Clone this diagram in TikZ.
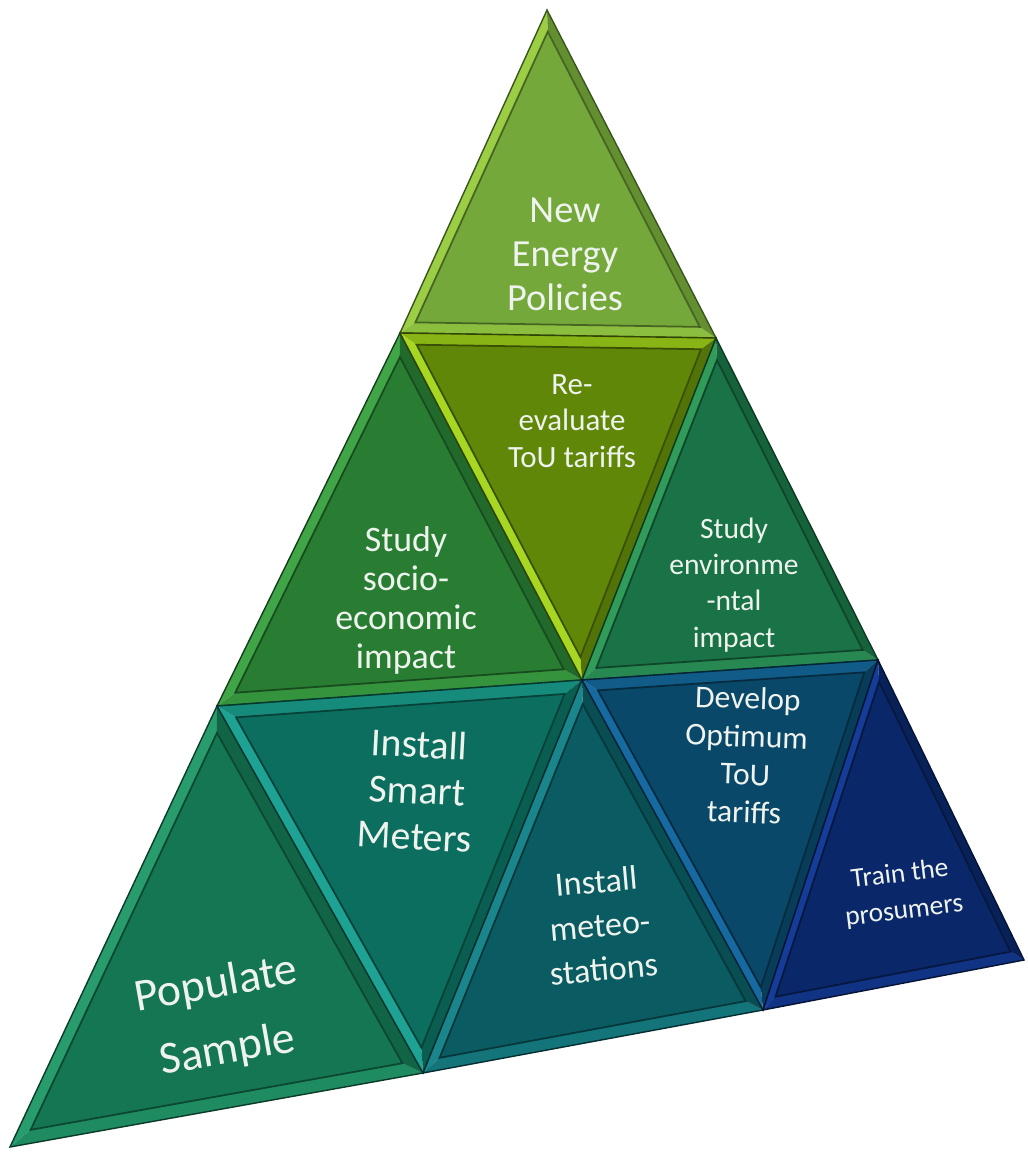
\documentclass[tikz,border=0pt]{standalone}
\usepackage{fontspec}
\setmainfont{Carlito}
\usetikzlibrary{calc}

% face and rim colours of the tiles
\definecolor{policyface}{RGB}{117,168,58}
\definecolor{policyrim}{RGB}{165,215,70}
\definecolor{reevalface}{RGB}{96,135,8}
\definecolor{reevalrim}{RGB}{185,235,40}
\definecolor{socioface}{RGB}{40,125,50}
\definecolor{sociorim}{RGB}{70,175,75}
\definecolor{envface}{RGB}{25,115,70}
\definecolor{envrim}{RGB}{55,165,95}
\definecolor{smartface}{RGB}{12,110,95}
\definecolor{smartrim}{RGB}{35,175,160}
\definecolor{popface}{RGB}{20,118,82}
\definecolor{poprim}{RGB}{45,165,115}
\definecolor{meteoface}{RGB}{10,92,98}
\definecolor{meteorim}{RGB}{30,145,150}
\definecolor{devface}{RGB}{10,72,105}
\definecolor{devrim}{RGB}{25,115,175}
\definecolor{trainface}{RGB}{10,40,105}
\definecolor{trainrim}{RGB}{25,65,165}
\definecolor{tiletxt}{RGB}{238,243,238}

% bevelled triangle: #1 #2 #3 corners, #4 face, #5 rim
\newcommand{\tile}[5]{%
  \coordinate (tc) at (barycentric cs:#1=1,#2=1,#3=1);
  \coordinate (ta) at ($(tc)!0.9!(#1)$);
  \coordinate (tb) at ($(tc)!0.9!(#2)$);
  \coordinate (td) at ($(tc)!0.9!(#3)$);
  \fill[#5!80!#4] (#1) -- (#2) -- (tb) -- (ta) -- cycle;
  \fill[#5!45!#4] (#2) -- (#3) -- (td) -- (tb) -- cycle;
  \fill[#4!85!black] (#3) -- (#1) -- (ta) -- (td) -- cycle;
  \fill[#4] (ta) -- (tb) -- (td) -- cycle;
  \draw[#4!60!black, line width=0.5pt] (ta) -- (tb) -- (td) -- cycle;
  \draw[#4!50!black, line width=0.4pt] (#1) -- (#2) -- (#3) -- cycle;
}

\newcommand{\fs}[2]{\fontsize{#1}{#2}\selectfont}

\tikzset{
  tiletext/.style={text=tiletxt, align=center, inner sep=0pt}
}

\begin{document}
\begin{tikzpicture}[x=0.01cm, y=-0.01cm]
\useasboundingbox (0,0) rectangle (1027,1152);

% corners of the pyramid grid
\coordinate (A)  at (547,10);
\coordinate (B1) at (400,333);
\coordinate (B2) at (716,338);
\coordinate (C1) at (217,706);
\coordinate (C2) at (582,680);
\coordinate (C3) at (878,660);
\coordinate (D1) at (10,1147);
\coordinate (D2) at (423,1073);
\coordinate (D3) at (763,1010);
\coordinate (D4) at (1024,960);

% top row
\tile{A}{B1}{B2}{policyface}{policyrim}
% middle row
\tile{B1}{C1}{C2}{socioface}{sociorim}
\tile{C2}{B1}{B2}{reevalface}{reevalrim}
\tile{B2}{C2}{C3}{envface}{envrim}
% bottom row
\tile{C1}{D1}{D2}{popface}{poprim}
\tile{D2}{C1}{C2}{smartface}{smartrim}
\tile{C2}{D2}{D3}{meteoface}{meteorim}
\tile{D3}{C2}{C3}{devface}{devrim}
\tile{C3}{D3}{D4}{trainface}{trainrim}

% labels
\node[tiletext, font=\fs{10.9}{12.5}] (policies) at (565,254) {New\\Energy\\Policies};
\node[tiletext, font=\fs{8.8}{10.3}] (reeval) at (572,421) {Re-\\evaluate\\ToU tariffs};
\node[tiletext, font=\fs{10.2}{11.1}] (socio) at (406,600) {Study\\socio-\\economic\\impact};
\node[tiletext, font=\fs{8.4}{10.3}] (environ) at (734,585) {Study\\environme\\-ntal\\impact};
\node[tiletext, font=\fs{11.3}{13.1}, rotate=-3] (smart) at (417,790) {Install\\Smart\\Meters};
\node[tiletext, font=\fs{13}{19}, rotate=10] (populate) at (222,1018) {Populate\\Sample};
\node[tiletext, font=\fs{9.7}{12.5}, rotate=5] (meteo) at (600,925) {Install\\meteo-\\stations};
\node[tiletext, font=\fs{9}{10.8}, rotate=-2] (develop) at (746,755) {Develop\\Optimum\\ToU\\tariffs};
\node[tiletext, font=\fs{7.8}{10.5}, rotate=7] (train) at (902,893) {Train the\\prosumers};
\end{tikzpicture}
\end{document}
